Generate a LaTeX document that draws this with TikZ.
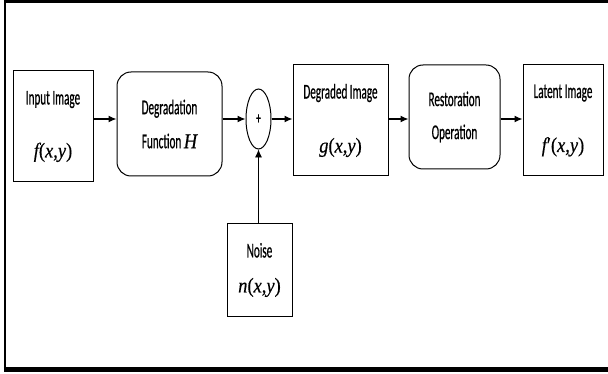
\documentclass[tikz,border=0pt]{standalone}
\usepackage{fontspec}
\usetikzlibrary{arrows.meta}
\usetikzlibrary{shapes}
\newfontfamily\lab[FakeStretch=0.53, FakeBold=0.6]{Carlito}
\newfontfamily\mth[FakeStretch=0.88, FakeBold=0.4]{Liberation Serif}
\newcommand{\mv}[1]{{\mth\itshape #1}}
\newcommand{\xy}{{\mth(\textit{x},\textit{y})}}

\begin{document}
\begin{tikzpicture}[x=1pt, y=-1pt,
  blockbox/.style={draw, line width=1pt, minimum width=80pt, minimum height=111pt,
    align=center, inner sep=0pt, font=\lab\fontsize{21}{23}\selectfont},
  roundbox/.style={blockbox, rounded corners=14pt, minimum height=104pt},
  sumnode/.style={draw, ellipse, line width=1pt, minimum width=25pt, minimum height=60pt,
    inner sep=0pt, font=\lab\fontsize{17}{19}\selectfont},
  conn/.style={-{Latex[length=8pt,width=7pt]}, line width=1.2pt}]

\useasboundingbox (0,0) rectangle (608,374);

% frame
\draw[line width=3.5pt] (3.75,1.75) -- (608,1.75);
\draw[line width=2.5pt] (5,0) -- (5,372);
\draw[line width=5pt] (3.75,369.5) -- (608,369.5);

% blocks
\node[blockbox] (input) at (53,126.5) {Input Image\\[30pt]\mv{f}\xy};
\node[roundbox, minimum width=105pt] (degrad) at (169.5,124) {Degradation\\[11pt]Function \mv{H}};
\node[sumnode] (sum) at (258.5,119) {+};
\node[blockbox, minimum width=95pt] (degraded) at (340.5,120.5) {Degraded Image\\[31pt]\mv{g}\xy};
\node[roundbox, minimum width=91pt] (restore) at (454.5,117) {Restoration\\[10pt]Operation};
\node[blockbox] (latent) at (563,120.5) {Latent Image\\[31pt]{\mth\itshape f\upshape′}\xy};
\node[blockbox, minimum width=65pt, minimum height=92pt] (noise) at (259.5,270) {Noise\\[12pt]\mv{n}\xy};

% connectors
\draw[conn] (input.east |- sum) -- (degrad.west |- sum);
\draw[conn] (degrad.east |- sum) -- (sum.west);
\draw[conn] (sum.east) -- (degraded.west |- sum);
\draw[conn] (degraded.east |- sum) -- (restore.west |- sum);
\draw[conn] (restore.east |- sum) -- (latent.west |- sum);
\draw[-{Latex[length=8pt,width=7pt]}, line width=0.8pt] (sum.south |- noise.north) -- (sum.south);
\end{tikzpicture}
\end{document}
